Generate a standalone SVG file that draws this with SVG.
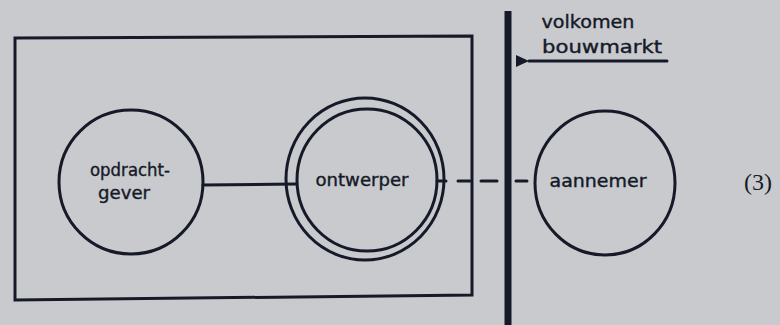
<svg xmlns="http://www.w3.org/2000/svg" width="780" height="325" viewBox="0 0 780 325">
<style>
.ln{fill:none;stroke:#161a28;stroke-width:3;stroke-linecap:round}
.lbl{font-family:"DejaVu Sans",sans-serif;font-size:18px;fill:#161a28;text-anchor:middle;stroke:#161a28;stroke-width:0.4}
</style>
<defs>
<marker id="ah" markerWidth="16" markerHeight="16" refX="1" refY="8" orient="auto" markerUnits="userSpaceOnUse">
<path d="M1,8 L14,2 L14,14 Z" fill="#161a28"/>
</marker>
</defs>
<rect width="780" height="325" fill="#c8cace"/>
<g id="frame">
<path class="ln" d="M15,38 L472,36 L472,295 L15,300 Z" stroke-width="3.5"/>
</g>
<g id="market-boundary">
<line x1="508" y1="11" x2="508" y2="325" stroke="#161a28" stroke-width="7"/>
</g>
<g id="connectors">
<line class="ln" x1="203" y1="185" x2="296" y2="184" stroke-width="3.5"/>
<line class="ln" x1="437" y1="181" x2="446" y2="181"/>
<path class="ln" d="M458,181 L470,181 M481,181 L497,181 M516,181 L527,181" stroke-linecap="butt"/>
<line class="ln" x1="667" y1="61" x2="529" y2="61" stroke-width="2.5" marker-end="url(#ah)"/>
</g>
<g id="opdrachtgever">
<ellipse class="ln" cx="131" cy="182" rx="72" ry="72"/>
<text class="lbl" x="130" y="176" font-size="17" textLength="80" lengthAdjust="spacingAndGlyphs">opdracht-</text>
<text class="lbl" x="124" y="199" font-size="17" textLength="52" lengthAdjust="spacingAndGlyphs">gever</text>
</g>
<g id="ontwerper">
<ellipse class="ln" cx="365" cy="179" rx="79" ry="81"/>
<ellipse class="ln" cx="367" cy="180" rx="70" ry="71"/>
<text class="lbl" x="362" y="186" textLength="93" lengthAdjust="spacingAndGlyphs">ontwerper</text>
</g>
<g id="aannemer">
<ellipse class="ln" cx="605" cy="183" rx="70" ry="72"/>
<text class="lbl" x="598" y="187" textLength="97" lengthAdjust="spacingAndGlyphs">aannemer</text>
</g>
<g id="volkomen-bouwmarkt">
<text class="lbl" x="588" y="28" textLength="93" lengthAdjust="spacingAndGlyphs">volkomen</text>
<text class="lbl" x="602" y="53" textLength="120" lengthAdjust="spacingAndGlyphs">bouwmarkt</text>
</g>
<text x="758" y="190" font-family="Liberation Serif,serif" font-size="24" fill="#161a28" text-anchor="middle">(3)</text>
</svg>
